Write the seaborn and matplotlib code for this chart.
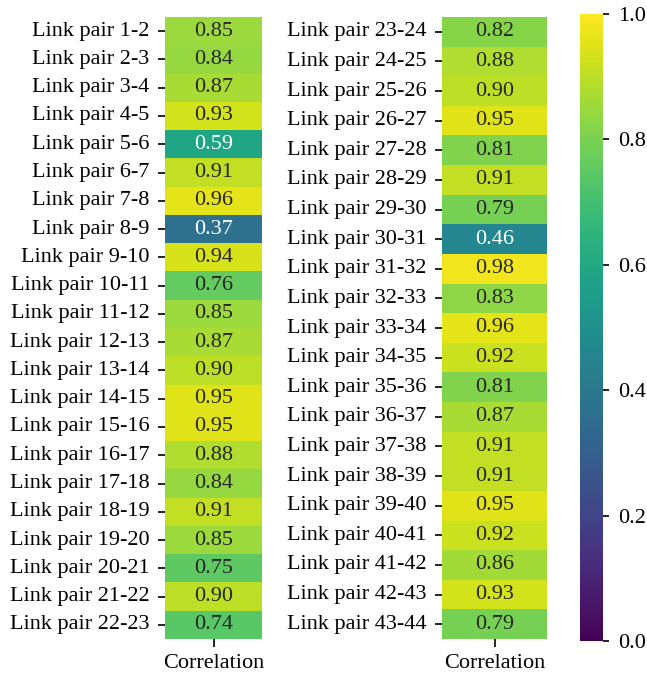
import numpy as np
import pandas as pd
import matplotlib
matplotlib.use("Agg")
import matplotlib.pyplot as plt
import seaborn as sns

plt.rcParams['font.family'] = ['Liberation Serif', 'DejaVu Serif']
plt.rcParams['font.size'] = 16

labels_left = [f"Link pair {i}-{i+1}" for i in range(1, 23)]
labels_right = [f"Link pair {i}-{i+1}" for i in range(23, 44)]
values_left = [0.85, 0.84, 0.87, 0.93, 0.59, 0.91, 0.96, 0.37, 0.94, 0.76, 0.85,
               0.87, 0.90, 0.95, 0.95, 0.88, 0.84, 0.91, 0.85, 0.75, 0.90, 0.74]
values_right = [0.82, 0.88, 0.90, 0.95, 0.81, 0.91, 0.79, 0.46, 0.98, 0.83, 0.96,
                0.92, 0.81, 0.87, 0.91, 0.91, 0.95, 0.92, 0.86, 0.93, 0.79]
col_name = "Correlation"

df_left = pd.DataFrame({col_name: values_left}, index=labels_left)
df_right = pd.DataFrame({col_name: values_right}, index=labels_right)

W, H = 647, 677
fig = plt.figure(figsize=(W / 100, H / 100), dpi=100)
ax1 = fig.add_axes([165 / W, 1 - 639 / H, 97 / W, 622 / H])
ax2 = fig.add_axes([442 / W, 1 - 639 / H, 105 / W, 622 / H])
cax = fig.add_axes([580 / W, 1 - 641 / H, 23 / W, 627 / H])

kw = dict(cmap='viridis', vmin=0, vmax=1, annot=True, fmt='.2f',
          annot_kws={'size': 16})
sns.heatmap(df_left, ax=ax1, cbar=False, **kw)
sns.heatmap(df_right, ax=ax2, cbar_ax=cax, **kw)

for ax in (ax1, ax2):
    ax.tick_params(axis='y', labelsize=16, rotation=0, length=5, width=1.2, pad=6)
    ax.tick_params(axis='x', labelsize=16, length=5.5, width=1.2, pad=5)
cax.tick_params(labelsize=16, length=4, width=1.2, pad=7)
cax.set_yticks([0, 0.2, 0.4, 0.6, 0.8, 1.0])

fig.savefig("out.png", dpi=100)
